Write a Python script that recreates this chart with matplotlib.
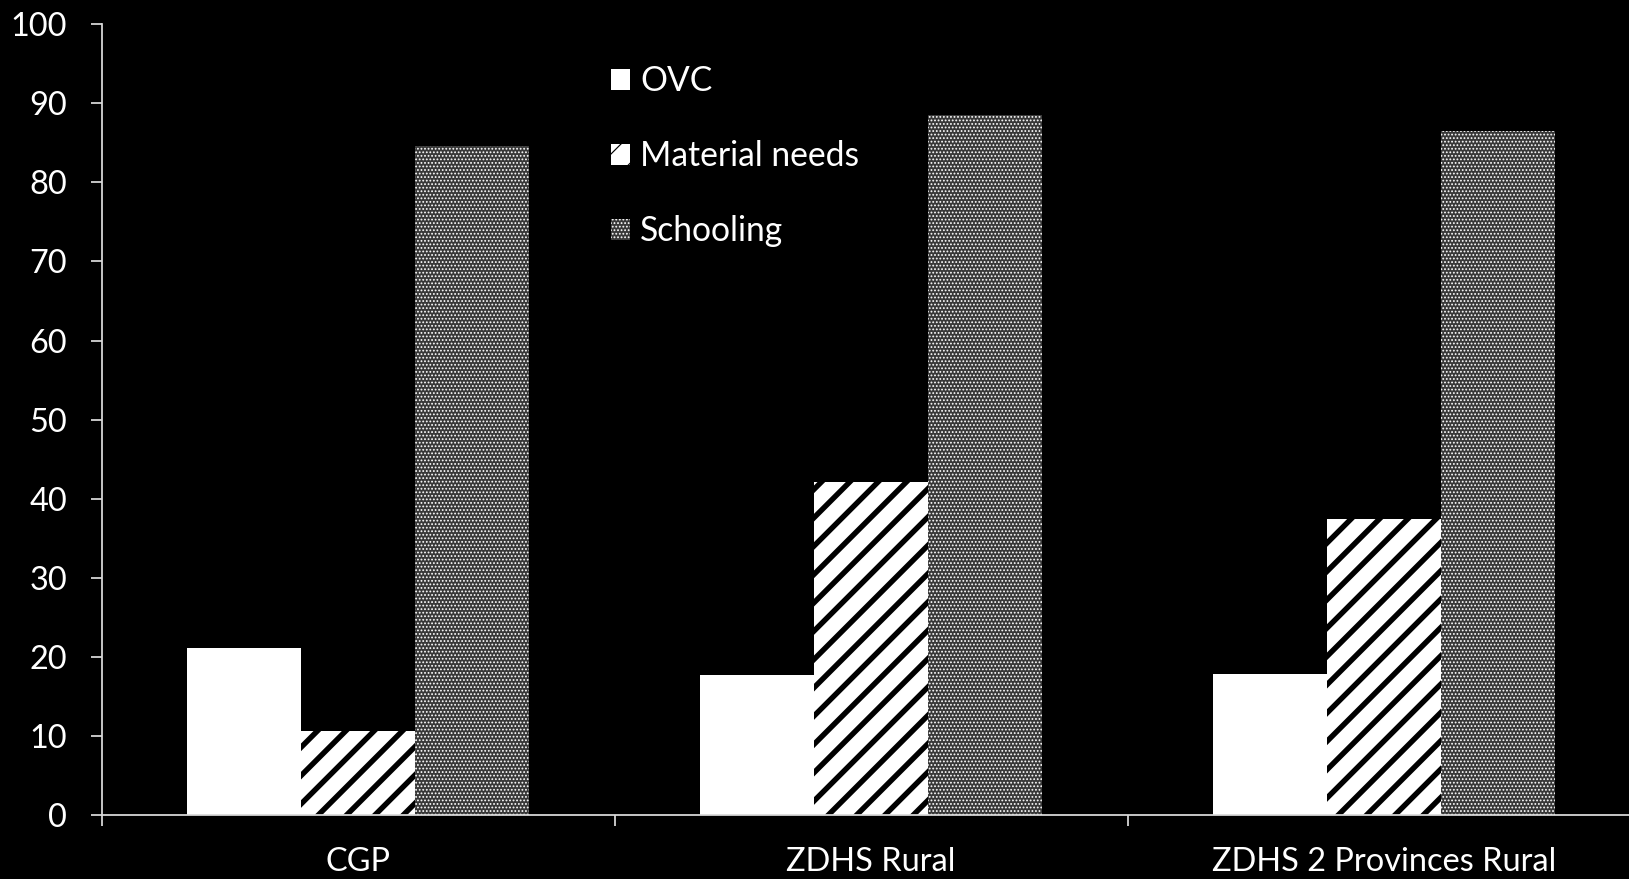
import matplotlib
matplotlib.use("Agg")
import matplotlib.pyplot as plt
import numpy as np

categories = ["CGP", "ZDHS Rural", "ZDHS 2 Provinces Rural"]
series_names = ["OVC", "Material needs", "Schooling"]
ovc = [21.1, 17.7, 17.9]
material_needs = [10.6, 42.1, 37.4]
schooling = [84.6, 88.5, 86.5]
y_ticks = [0, 10, 20, 30, 40, 50, 60, 70, 80, 90, 100]

DPI = 85
W, H = 1629, 879
plt.rcParams['font.family'] = ['Lato', 'DejaVu Sans']
FS = 27.5
LFS = 28.5

fig = plt.figure(figsize=(W / DPI, H / DPI), dpi=DPI, facecolor='black')
ax_left, ax_bottom = 101.5 / W, (H - 815.3) / H
ax_w, ax_h = 3 * 513 / W, (815.3 - 24) / H
ax = fig.add_axes([ax_left, ax_bottom, ax_w, ax_h], facecolor='black')

x = np.arange(len(categories)) + 0.5
bw = 1 / 4.5

styles = [
    dict(facecolor='white', edgecolor='white', hatch=None, hlw=1.0),
    dict(facecolor='white', edgecolor='black', hatch='/', hlw=4.6),
    dict(facecolor='#383838', edgecolor='white', hatch='....', hlw=1.0),
]
data = [ovc, material_needs, schooling]
containers = []
for i, (vals, st, name) in enumerate(zip(data, styles, series_names)):
    with plt.rc_context({'hatch.linewidth': st['hlw']}):
        bars = ax.bar(x + (i - 1) * bw, vals, width=bw, facecolor=st['facecolor'],
                      edgecolor=st['edgecolor'], linewidth=0, hatch=st['hatch'],
                      label=name)
        for p in bars:
            if hasattr(p, 'set_hatch_linewidth'):
                p.set_hatch_linewidth(st['hlw'])
    containers.append(bars)

ax.set_xlim(0, 3)
ax.set_ylim(0, 100)
ax.set_yticks(y_ticks)
ax.set_yticklabels([str(t) for t in y_ticks])
ax.set_xticks([0, 1, 2, 3])
ax.set_xticklabels([])
ax.set_xticks(x, minor=True)
ax.set_xticklabels(categories, minor=True)

spine_col = '#d9d9d9'
for s in ['top', 'right']:
    ax.spines[s].set_visible(False)
for s in ['left', 'bottom']:
    ax.spines[s].set_color(spine_col)
    ax.spines[s].set_linewidth(1.5)
ax.tick_params(axis='y', which='major', direction='out', length=9.3, width=1.5,
               color=spine_col, labelcolor='white', labelsize=FS, pad=20)
ax.tick_params(axis='x', which='major', direction='out', length=9.3, width=1.5,
               color=spine_col)
ax.tick_params(axis='x', which='minor', length=0, labelcolor='white',
               labelsize=FS, pad=27)

leg = ax.legend(loc='upper left', bbox_to_anchor=(610.7 / W, 1 - 65 / H),
                bbox_transform=fig.transFigure, frameon=False, fontsize=LFS,
                handlelength=0.58, handleheight=0.58, handletextpad=0.3,
                labelspacing=1.28, borderpad=0, borderaxespad=0)
for t in leg.get_texts():
    t.set_color('white')

fig.savefig('out.png', dpi=DPI, facecolor='black')
